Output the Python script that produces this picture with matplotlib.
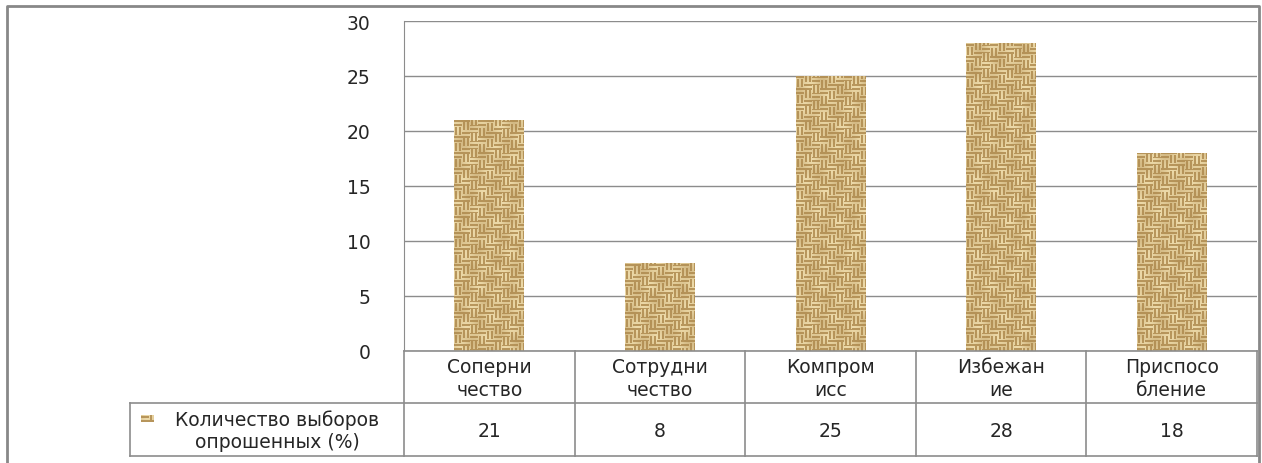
import numpy as np
import matplotlib
matplotlib.use('agg')
from matplotlib import pyplot as plt
from matplotlib.lines import Line2D

categories = ['Соперни\nчество', 'Сотрудни\nчество', 'Компром\nисс', 'Избежан\nие', 'Приспосо\nбление']
values = [21, 8, 25, 28, 18]
series_name = 'Количество выборов\nопрошенных (%)'
yticks = [0, 5, 10, 15, 20, 25, 30]

W, H = 1262, 464
plt.rcParams['font.family'] = ['DejaVu Sans']
grey = '#8c8c8c'
txt = '#262626'


def weave(h, w):
    # burlap-like basket weave, drawn procedurally
    y, x = np.indices((h, w))
    b = 8
    block = ((x // b) + ((y + 3 * (x // b)) // b)) % 2
    horiz = 0.5 + 0.5 * np.cos(2 * np.pi * (y + 0.5) / 4)
    vert = 0.5 + 0.5 * np.cos(2 * np.pi * (x + 0.5) / 4)
    t = np.where(block == 0, horiz, vert)
    shade = 0.8 + 0.2 * np.sin(x * 0.21 + y * 0.09) * np.cos(y * 0.17 - x * 0.07)
    t = 0.15 + 0.85 * t * shade
    light = np.array([248, 232, 185]) / 255.0
    dark = np.array([160, 120, 58]) / 255.0
    img = dark[None, None, :] * (1 - t[..., None]) + light[None, None, :] * t[..., None]
    return np.clip(img, 0, 1)


def fx(x):
    return x / W


def fy(y):
    return 1 - y / H


fig = plt.figure(figsize=(W / 100, H / 100), dpi=100)
ax_l, ax_r, ax_t, ax_b = 404, 1257, 22, 352
ax = fig.add_axes([fx(ax_l), fy(ax_b), fx(ax_r - ax_l), (ax_b - ax_t) / H])

n = len(categories)
bw = 0.41
px_per_x = (ax_r - ax_l) / n
px_per_y = (ax_b - ax_t) / 30.0
for i, v in enumerate(values):
    img = weave(int(round(v * px_per_y)), int(round(bw * px_per_x)))
    ax.imshow(img, extent=(i - bw / 2, i + bw / 2, 0, v), aspect='auto',
              interpolation='bilinear', zorder=3, origin='lower')

ax.set_xlim(-0.5, n - 0.5)
ax.set_ylim(0, 30)
ax.set_yticks(yticks)
ax.set_yticklabels([str(t) for t in yticks], fontsize=13.5, color=txt)
ax.tick_params(axis='y', length=0, pad=24)
ax.set_xticks([])
ax.grid(axis='y', color=grey, linewidth=1)
ax.set_axisbelow(True)
for s in ['top', 'right', 'bottom']:
    ax.spines[s].set_visible(False)
ax.spines['left'].set_color(grey)

# data table under the chart
row1, row2, row3 = 352, 404, 457
tbl_left = 130
col_edges = [ax_l + i * px_per_x for i in range(n + 1)]


def hline(x0, x1, y):
    fig.add_artist(Line2D([fx(x0), fx(x1)], [fy(y), fy(y)], color=grey, lw=1.2,
                          transform=fig.transFigure))


def vline(x, y0, y1):
    fig.add_artist(Line2D([fx(x), fx(x)], [fy(y0), fy(y1)], color=grey, lw=1.2,
                          transform=fig.transFigure))


hline(ax_l, ax_r, row1)
hline(tbl_left, ax_r, row2)
hline(tbl_left, ax_r, row3)
for x in col_edges:
    vline(x, row1, row3)
vline(tbl_left, row2, row3)

for i in range(n):
    cx = (col_edges[i] + col_edges[i + 1]) / 2
    fig.text(fx(cx), fy(379), categories[i], ha='center', va='center',
             fontsize=13.5, linespacing=1.25, color=txt)
    fig.text(fx(cx), fy(432), str(values[i]), ha='center', va='center',
             fontsize=13.5, color=txt)

fig.text(fx(277), fy(431), series_name, ha='center', va='center',
         fontsize=13.5, linespacing=1.2, multialignment='center', color=txt)
key = fig.add_axes([fx(141), fy(423), fx(13), 7 / H])
key.imshow(weave(7, 13), aspect='auto', interpolation='nearest')
key.axis('off')

# outer frame
fig.add_artist(Line2D([fx(7), fx(7), fx(1259), fx(1259)], [fy(H), fy(7), fy(7), fy(H)],
                      color='#888888', lw=2, transform=fig.transFigure))

fig.savefig('out.png', dpi=100, facecolor='white')
